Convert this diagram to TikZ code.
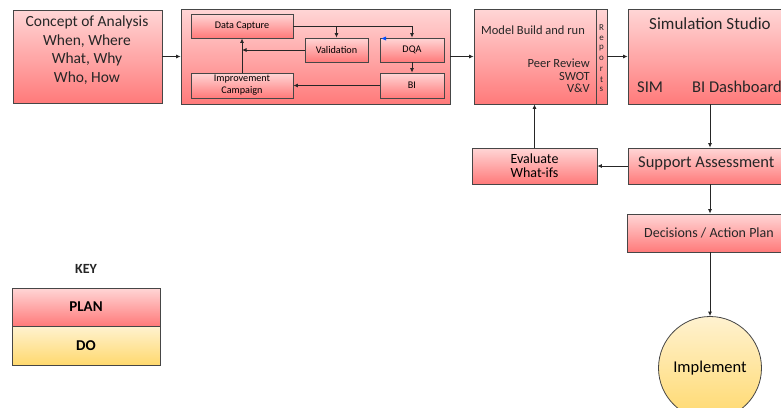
\documentclass[tikz,border=0pt]{standalone}
\usepackage{fontspec}
\setmainfont{Carlito}
\usetikzlibrary{arrows.meta}
\definecolor{pinktop}{RGB}{255,214,214}
\definecolor{pinkbot}{RGB}{255,122,122}
\definecolor{yeltop}{RGB}{255,242,208}
\definecolor{yelbot}{RGB}{255,217,110}
\definecolor{edge}{RGB}{70,70,70}
\tikzset{
  pinkbox/.style={draw=edge, line width=0.8pt, top color=pinktop, bottom color=pinkbot, inner sep=0pt},
  yelbox/.style={draw=edge, line width=0.8pt, top color=yeltop, bottom color=yelbot, inner sep=0pt},
  arr/.style={draw=black!85, line width=0.8pt, -{Latex[length=4.5pt,width=4pt]}},
  lbl/.style={inner sep=0pt, text=black!85},
}
\newcommand{\fs}[2]{\fontsize{#1}{#2}\selectfont}
\begin{document}
\begin{tikzpicture}[x=1pt,y=-1pt]
\useasboundingbox (0,0) rectangle (781,407);
\clip (0,0) rectangle (781,407);
\fill[white] (0,0) rectangle (781,407);

% top row
\node[pinkbox, minimum width=149pt, minimum height=93pt] (concept) at (87.5,56.5) {};
\node[lbl, align=center, font=\fs{15.5}{18.5}] at (87,50) {Concept of Analysis\\When, Where\\What, Why\\Who, How};

\node[pinkbox, minimum width=269pt, minimum height=95pt] (block) at (315.5,56.5) {};
\node[pinkbox, minimum width=102pt, minimum height=24pt, font=\fs{10.2}{12}] (cap) at (242,26) {Data Capture};
\node[pinkbox, minimum width=63pt, minimum height=24pt, font=\fs{10.2}{12}] (val) at (336.5,50) {Validation};
\node[pinkbox, minimum width=64pt, minimum height=24pt, font=\fs{10.2}{12}] (dqa) at (412,50) {DQA};
\node[pinkbox, minimum width=102pt, minimum height=25pt, align=center, font=\fs{10.2}{12}] (imp) at (242,85.5) {Improvement\\Campaign};
\node[pinkbox, minimum width=64pt, minimum height=25pt, font=\fs{10.2}{12}] (bi) at (412,85.5) {BI};

\node[pinkbox, minimum width=133pt, minimum height=95pt] (model) at (540.5,56.5) {};
\draw[edge, line width=0.8pt] (596,9) -- (596,104);
\node[lbl, anchor=west, font=\fs{12.5}{14}] at (481,30) {Model Build and run};
\node[lbl, anchor=north east, align=right, font=\fs{12.5}{12.5}] at (590,59) {Peer Review\\SWOT\\V\&V};
\foreach \ch [count=\i] in {R,e,p,o,r,t,s}
  \node[lbl, font=\fs{9}{10}] at (601.5,17.5+10.3*\i) {\ch};

\node[pinkbox, minimum width=172pt, minimum height=95pt] (sim) at (714,56.5) {};
\node[lbl, font=\fs{17}{20}] at (710,24) {Simulation Studio};
\node[lbl, anchor=west, font=\fs{16.5}{20}] at (637,87) {SIM};
\node[lbl, anchor=west, font=\fs{16.5}{20}] at (692,87) {BI Dashboard};

% second row
\node[pinkbox, minimum width=125pt, minimum height=36pt, align=center, font=\fs{14}{14}] (eval) at (534.5,166) {Evaluate\\What-ifs};
\node[pinkbox, minimum width=172pt, minimum height=36pt] (supp) at (714,166) {};
\node[lbl, anchor=west, font=\fs{16.5}{20}] at (638,163) {Support Assessment};

\node[pinkbox, minimum width=173pt, minimum height=38pt] (dec) at (713.5,233) {};
\node[lbl, anchor=west, font=\fs{14}{16}] at (644,233) {Decisions / Action Plan};

\node[yelbox, circle, minimum size=103pt, font=\fs{16.5}{20}] (impl) at (710,368) {Implement};

% key
\node[lbl, font=\bfseries\fs{14}{16}] (key) at (86,269) {KEY};
\node[pinkbox, minimum width=148pt, minimum height=38pt, font=\bfseries\fs{15}{18}] (plan) at (86,307) {PLAN};
\node[yelbox, minimum width=148pt, minimum height=39pt, font=\bfseries\fs{15}{18}] (do) at (86,345.5) {DO};

% connectors
\coordinate (col) at (710,0);
\draw[arr] (concept) -- (block);
\draw[arr] (block) -- (model);
\draw[arr] (model) -- (sim);
\draw[arr] (cap.east) -| (val.north);
\draw[arr] (cap.east) -| (dqa.north);
\draw[arr] (val.west) -- (val.west -| imp.north);
\draw[arr] (imp.north) -- (cap.south);
\draw[arr] (dqa.south) -- (bi.north);
\draw[arr] (bi.west) -- (imp.east);
\draw[arr] (sim.south -| col) -- (supp.north -| col);
\draw[arr] (supp.west) -- (eval.east);
\draw[arr] (eval.north) -- (eval.north |- model.south);
\draw[arr] (supp.south -| col) -- (dec.north -| col);
\draw[arr] (dec.south -| col) -- (impl.north);

% small blue marker on the DQA box
\fill[blue!70!cyan] (381.5,38.5) -- (386,36.5) -- (386,40.5) -- cycle;
\end{tikzpicture}
\end{document}
